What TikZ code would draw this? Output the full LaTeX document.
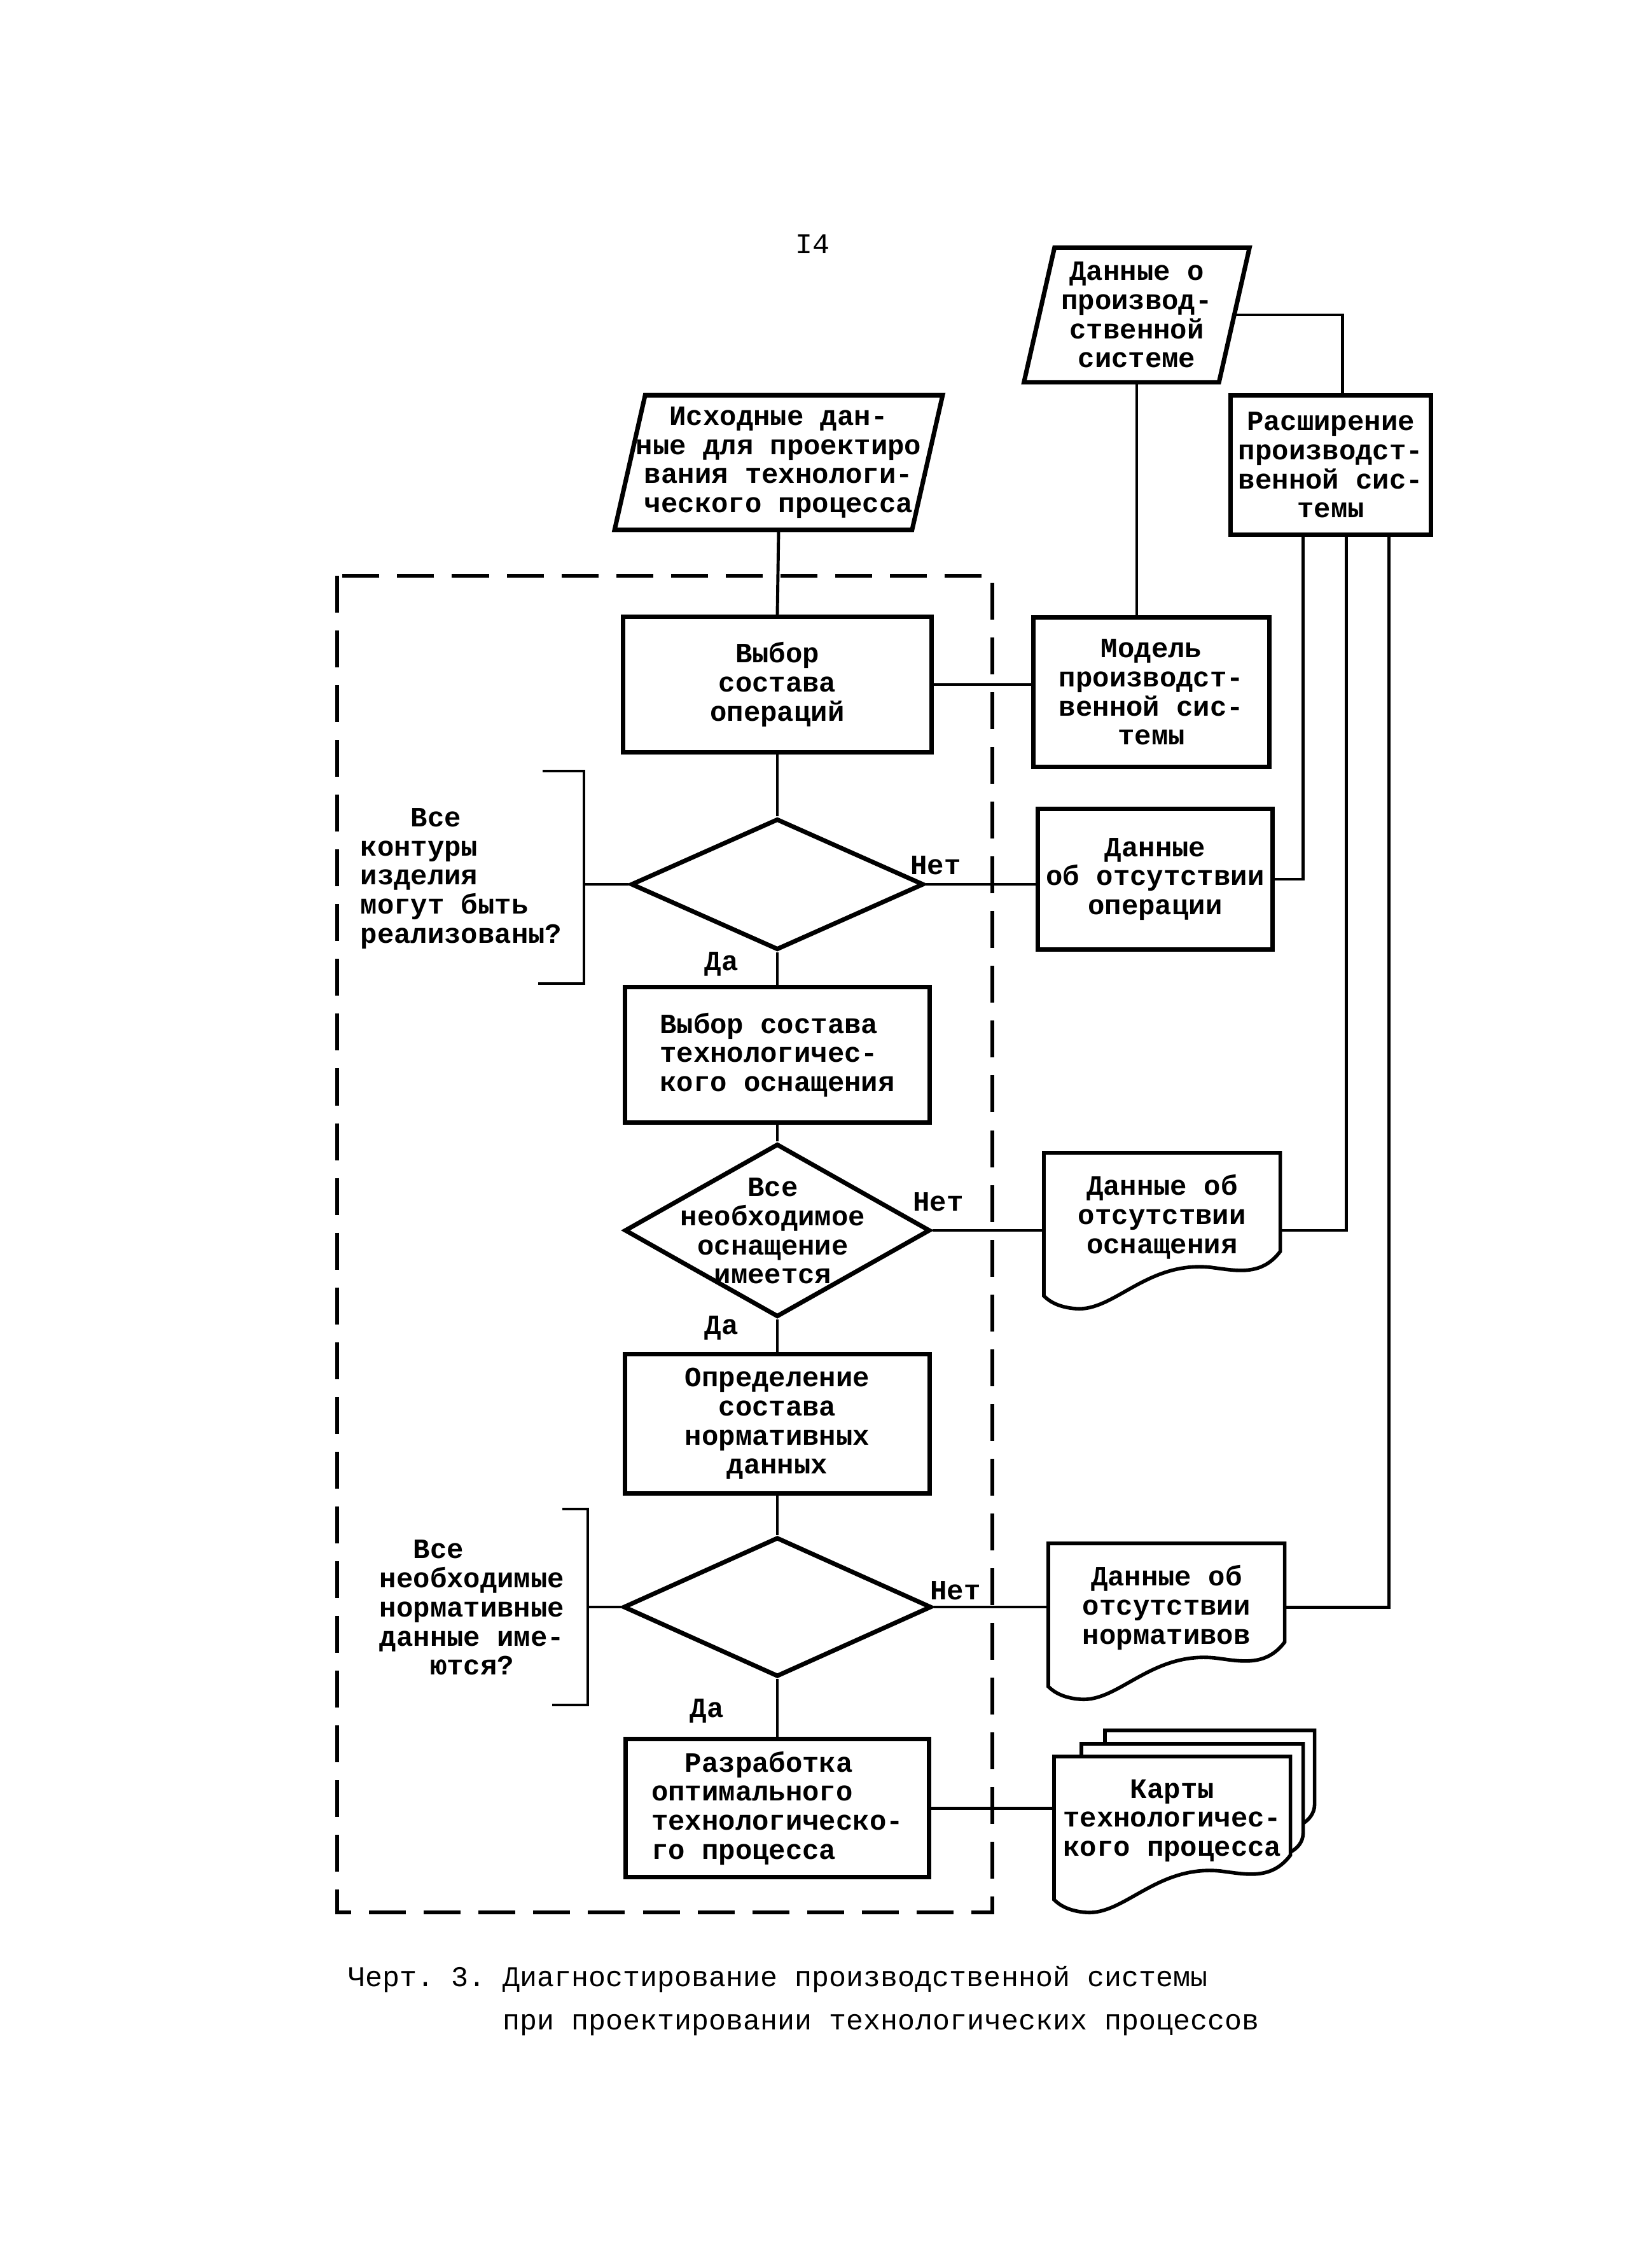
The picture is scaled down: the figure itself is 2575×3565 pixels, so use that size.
\documentclass[tikz,border=0pt]{standalone}
\usepackage{fontspec}
\newfontfamily\twfont{Liberation Mono}
\usepackage{tikz}
\usetikzlibrary{shapes.geometric}
\newcommand{\boxfont}{\twfont\bfseries\fontsize{12.5pt}{13pt}\selectfont}
\newcommand{\capfont}{\twfont\fontsize{12.8pt}{19.3pt}\selectfont}
\frenchspacing

\tikzset{
	box/.style = {draw, line width = 2pt, inner sep = 0pt, font = \boxfont, align = center},
	paratext/.style = {inner sep = 0pt, minimum height = 2.1cm, font = \boxfont, align = center},
	dia/.style = {diamond, draw, line width = 2pt, inner sep = 0pt},
	doc/.style = {inner sep = 0pt, minimum width = 3.7cm, minimum height = 2cm, anchor = north west, font = \boxfont, align = center},
	docline/.style = {line width = 1.6pt},
	link/.style = {line width = 1.4pt},
	note/.style = {inner sep = 0pt, font = \boxfont},
	lbl/.style = {inner sep = 0pt, font = \boxfont},
	capt/.style = {inner sep = 0pt, font = \capfont, align = left},
	dashbox/.style = {line width = 1.6pt, dash pattern = on 5.8mm off 2.8mm}
}

\begin{document}
\begin{tikzpicture}[x = 0.01cm, y = -0.01cm]
	\path [use as bounding box, fill = white] (0,0) rectangle (2575,3565);
	
	\node [capt] (pnum) at (1277,384) {I4};
	
	% inputs
	\node [paratext, minimum width = 3.05cm] (p1) at (1787,495) {Данные о\\производ-\\ственной\\системе};
	\node [paratext, minimum width = 4.66cm] (p2) at (1224,727) {Исходные дан-\\ные для проектиро\\вания технологи-\\ческого процесса};
	\foreach \p in {p1,p2}
		\draw [box] ([shift={(24,0)}]\p.north west) -- ([shift={(24,0)}]\p.north east) -- ([shift={(-24,0)}]\p.south east) -- ([shift={(-24,0)}]\p.south west) -- cycle;
	
	\node [box, minimum width = 3.15cm, minimum height = 2.18cm] (r) at (2092,731) {Расширение\\производст-\\венной сис-\\темы};
	
	\draw [dashbox] (530,905) rectangle (1560,3006);
	
	% main column
	\node [box, minimum width = 4.84cm, minimum height = 2.12cm] (b1) at (1222,1076) {Выбор\\состава\\операций};
	\node [dia, minimum width = 4.6cm, minimum height = 2.06cm] (d1) at (1222,1390) {};
	\node [box, minimum width = 4.79cm, minimum height = 2.12cm, align = left] (b2) at (1222,1658) {Выбор состава\\технологичес-\\кого оснащения};
	\node [dia, minimum width = 4.8cm, minimum height = 2.72cm] (d2) at (1222,1934) {};
	\node [note, align = center] (t2) at (1215,1935) {Все\\необходимое\\оснащение\\имеется};
	\node [box, minimum width = 4.79cm, minimum height = 2.18cm] (b3) at (1222,2238) {Определение\\состава\\нормативных\\данных};
	\node [dia, minimum width = 4.84cm, minimum height = 2.19cm] (d3) at (1222,2526) {};
	\node [box, minimum width = 4.77cm, minimum height = 2.16cm, align = left] (b4) at (1222,2842) {\phantom{xx}Разработка\\оптимального\\технологическо-\\го процесса};
	
	% right column
	\node [box, minimum width = 3.71cm, minimum height = 2.35cm] (m) at (1810,1088) {Модель\\производст-\\венной сис-\\темы};
	\node [box, minimum width = 3.68cm, minimum height = 2.2cm] (e1) at (1816,1382) {Данные\\об отсутствии\\операции};
	\node [doc] (e2) at (1641,1812) {Данные об\\отсутствии\\оснащения};
	\node [doc] (e3) at (1648,2426) {Данные об\\отсутствии\\нормативов};
	\node [doc] (cards) at (1657,2761) {Карты\\технологичес-\\кого процесса};
	\foreach \d in {e2,e3,cards}
		\draw [docline] (\d.north west) -- (\d.north east) -- ([shift={(0,155)}]\d.north east)
			.. controls ([shift={(-30,195)}]\d.north east) and ([shift={(-70,185)}]\d.north east) .. ([shift={(-110,180)}]\d.north east)
			.. controls ([shift={(-210,170)}]\d.north east) and ([shift={(110,250)}]\d.north west) .. ([shift={(50,245)}]\d.north west)
			.. controls ([shift={(25,243)}]\d.north west) and ([shift={(10,235)}]\d.north west) .. ([shift={(0,225)}]\d.north west) -- cycle;
	\draw [docline] ([shift={(43,0)}]cards.north west) -- ([shift={(43,-20)}]cards.north west) -- ([shift={(20,-20)}]cards.north east) -- ([shift={(20,120)}]cards.north east)
		.. controls ([shift={(20,135)}]cards.north east) and ([shift={(10,145)}]cards.north east) .. ([shift={(0,150)}]cards.north east);
	\draw [docline] ([shift={(80,-20)}]cards.north west) -- ([shift={(80,-41)}]cards.north west) -- ([shift={(38,-41)}]cards.north east) -- ([shift={(38,75)}]cards.north east)
		.. controls ([shift={(38,90)}]cards.north east) and ([shift={(28,100)}]cards.north east) .. ([shift={(20,105)}]cards.north east);
	
	% questions
	\node [note, anchor = west, align = left] (a1) at (566,1381) {\phantom{xxx}Все\\контуры\\изделия\\могут быть\\реализованы?};
	\draw [link] (853,1212) -- (918,1212) -- (918,1546) -- (846,1546);
	\coordinate (k1) at (918,1390);
	\node [note, align = center] (a3) at (742,2527) {Все\phantom{xxxx}\\необходимые\\нормативные\\данные име-\\ются?};
	\draw [link] (884,2372) -- (924,2372) -- (924,2680) -- (868,2680);
	\coordinate (k3) at (924,2526);
	
	\node [lbl] (no1) at (1471,1360) {Нет};
	\node [lbl] (no2) at (1475,1889) {Нет};
	\node [lbl] (no3) at (1502,2500) {Нет};
	\node [lbl] (yes1) at (1134,1515) {Да};
	\node [lbl] (yes2) at (1134,2087) {Да};
	\node [lbl] (yes3) at (1111,2689) {Да};
	
	% connectors
	\draw [link] (p2.south) -- (b1.north);
	\draw [link] (p1.south) -- (p1.south |- m.north);
	\draw [link] (p1.east) -| ([shift={(180,0)}]r.north west);
	\draw [link] (b1.east) -- (b1.east -| m.west);
	\foreach \a/\b in {b1/d1,d1/b2,b2/d2,d2/b3,b3/d3,d3/b4}
		\draw [link] (\a.south) -- (\b.north);
	\draw [link] (k1) -- (d1.west);
	\draw [link] (k3) -- (d3.west);
	\draw [link] (d1.east) -- (d1.east -| e1.west);
	\draw [link] (d2.east) -- (d2.east -| e2.west);
	\draw [link] (d3.east) -- (d3.east -| e3.west);
	\draw [link] (b4.east) -- (b4.east -| cards.west);
	\draw [link] (e1.east) -| ([shift={(118,0)}]r.south west);
	\draw [link] (d2.east -| e2.east) -| ([shift={(186,0)}]r.south west);
	\draw [link] (e3.east) -| ([shift={(253,0)}]r.south west);
	
	\node [capt, anchor = west] (cap) at (547,3145) {Черт. 3. Диагностирование производственной системы\\\phantom{Черт. 3. }при проектировании технологических процессов};
\end{tikzpicture}
\end{document}
